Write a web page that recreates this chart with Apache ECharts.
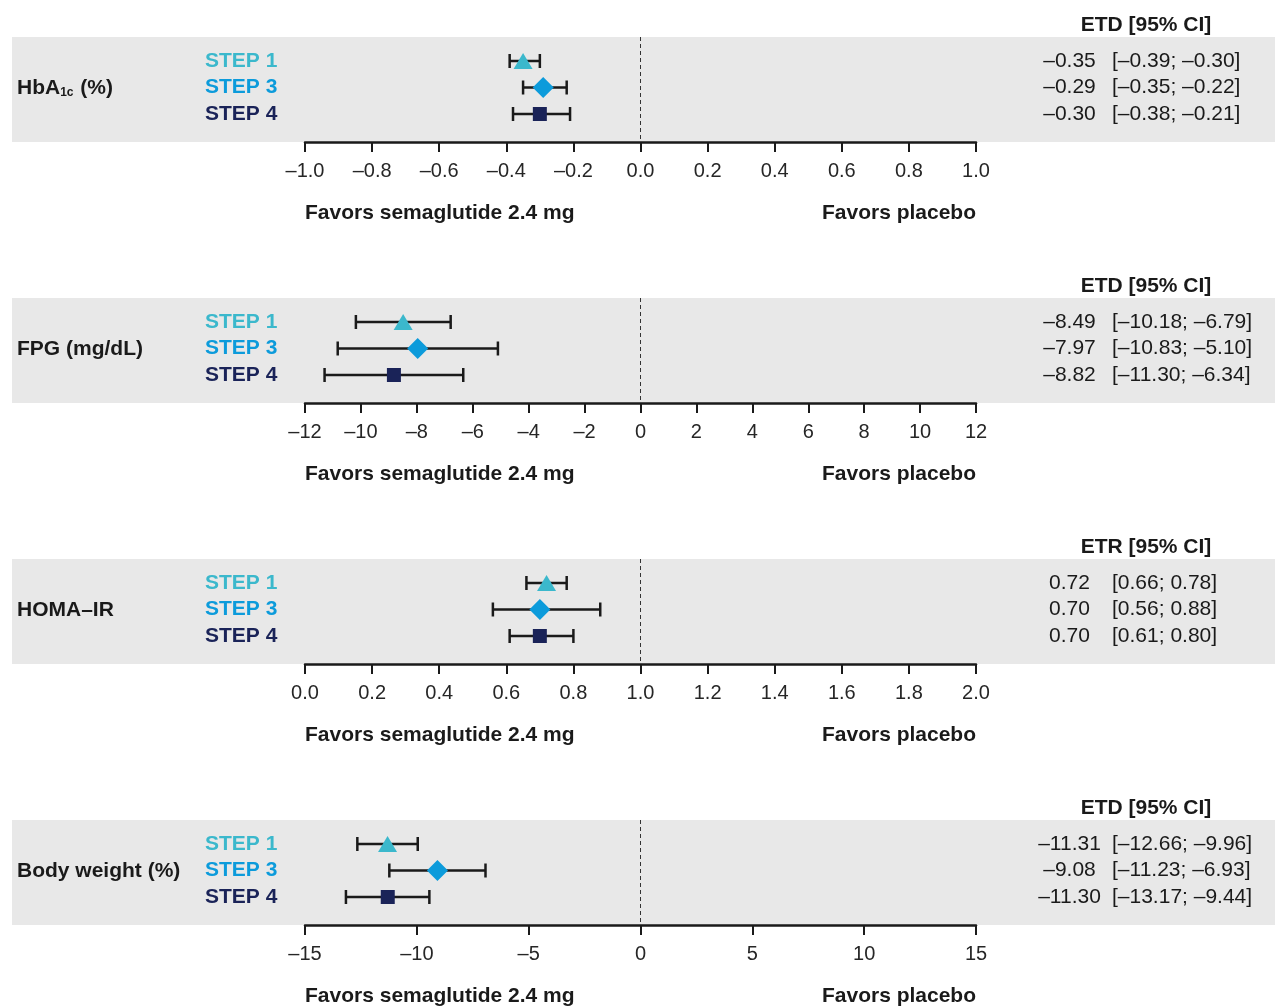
<!DOCTYPE html>
<html>
<head>
<meta charset="utf-8">
<script src="https://cdn.jsdelivr.net/npm/echarts@6/dist/echarts.min.js"></script>
<style>
  html, body { margin: 0; padding: 0; background: #fff; }
  #chart { width: 1275px; height: 1007px; }
</style>
</head>
<body>
<div id="chart"></div>
<script>
// data
var studies = ['STEP 1', 'STEP 3', 'STEP 4'];

var hbaEst = [-0.35, -0.29, -0.30];
var hbaLo  = [-0.39, -0.35, -0.38];
var hbaHi  = [-0.30, -0.22, -0.21];

var fpgEst = [-8.49, -7.97, -8.82];
var fpgLo  = [-10.18, -10.83, -11.30];
var fpgHi  = [-6.79, -5.10, -6.34];

var homaEst = [0.72, 0.70, 0.70];
var homaLo  = [0.66, 0.56, 0.61];
var homaHi  = [0.78, 0.88, 0.80];

var bwEst = [-11.31, -9.08, -11.30];
var bwLo  = [-12.66, -11.23, -13.17];
var bwHi  = [-9.96, -6.93, -9.44];

var panels = [
  { title: '{b|HbA}{s|1c}{b| (%)}', head: 'ETD [95% CI]', est: hbaEst, lo: hbaLo, hi: hbaHi, min: -1, max: 1, step: 0.2, ref: 0, dec: 1 },
  { title: '{b|FPG (mg/dL)}', head: 'ETD [95% CI]', est: fpgEst, lo: fpgLo, hi: fpgHi, min: -12, max: 12, step: 2, ref: 0, dec: 0 },
  { title: '{b|HOMA–IR}', head: 'ETR [95% CI]', est: homaEst, lo: homaLo, hi: homaHi, min: 0, max: 2, step: 0.2, ref: 1, dec: 1 },
  { title: '{b|Body weight (%)}', head: 'ETD [95% CI]', est: bwEst, lo: bwLo, hi: bwHi, min: -15, max: 15, step: 5, ref: 0, dec: 0 }
];

var colors = ['#3bb8cc', '#0c9bdb', '#1a2358'];
var symbols = ['triangle', 'diamond', 'rect'];
var symbolSizes = [[19, 16], [21, 21], [14, 14]];

var FONT = '"Liberation Sans", Arial, sans-serif';
var INK = '#1a1a1a';

function dash(s) { return s.replace(/-/g, '–'); }
function fmt(v, d) { return dash(v.toFixed(d)); }

var chart = echarts.init(document.getElementById('chart'));

var grids = [], xAxes = [], yAxes = [], series = [], graphics = [];

panels.forEach(function (p, i) {
  var base = 37 + 261 * i;   // top of grey band
  graphics.push({
    type: 'rect', left: 12, top: base, z: -10,
    shape: { width: 1263, height: 105 },
    style: { fill: '#e8e8e8' }
  });
  graphics.push({
    type: 'text', x: 17, y: base + 51, z: 10,
    style: {
      text: p.title, verticalAlign: 'middle', fill: INK,
      rich: {
        b: { fontFamily: FONT, fontSize: 21, fontWeight: 'bold', fill: INK },
        s: { fontFamily: FONT, fontSize: 12, fontWeight: 'bold', fill: INK, padding: [10, 1, 0, 0] }
      }
    }
  });
  graphics.push({
    type: 'text', x: 1146, y: base - 12, z: 10,
    style: { text: p.head, align: 'center', verticalAlign: 'middle', fontFamily: FONT, fontSize: 21, fontWeight: 'bold', fill: INK }
  });
  graphics.push({
    type: 'text', x: 305, y: base + 176, z: 10,
    style: { text: 'Favors semaglutide 2.4 mg', align: 'left', verticalAlign: 'middle', fontFamily: FONT, fontSize: 21, fontWeight: 'bold', fill: INK }
  });
  graphics.push({
    type: 'text', x: 976, y: base + 176, z: 10,
    style: { text: 'Favors placebo', align: 'right', verticalAlign: 'middle', fontFamily: FONT, fontSize: 21, fontWeight: 'bold', fill: INK }
  });

  grids.push({ left: 305, right: 299, top: base + 24, height: 53 });

  xAxes.push({
    type: 'value', gridIndex: i, min: p.min, max: p.max, interval: p.step,
    position: 'bottom', offset: 28,
    axisLine: { show: true, onZero: false, lineStyle: { color: INK, width: 2.5 } },
    axisTick: { show: true, inside: false, length: 10, lineStyle: { color: INK, width: 2 } },
    splitLine: { show: false },
    axisLabel: {
      margin: 19, fontFamily: FONT, fontSize: 20, color: '#262626',
      formatter: function (v) { return fmt(v, p.dec); }
    }
  });

  var labelRich = {};
  colors.forEach(function (c, k) {
    labelRich['s' + k] = { fontFamily: FONT, fontSize: 21, fontWeight: 'bold', color: c };
  });
  yAxes.push({
    type: 'category', gridIndex: i, data: studies, inverse: true, boundaryGap: false,
    position: 'left',
    axisLine: { show: false }, axisTick: { show: false }, splitLine: { show: false },
    axisLabel: {
      align: 'left', margin: 100,
      formatter: function (v, k) { return '{s' + k + '|' + v + '}'; },
      rich: labelRich
    }
  });
  yAxes.push({
    type: 'category', gridIndex: i, data: studies, inverse: true, boundaryGap: false,
    position: 'right',
    axisLine: { show: false }, axisTick: { show: false }, splitLine: { show: false },
    axisLabel: {
      align: 'left', margin: 52,
      formatter: function (v, k) {
        return '{e|' + fmt(p.est[k], 2) + '}{c|[' + fmt(p.lo[k], 2) + '; ' + fmt(p.hi[k], 2) + ']}';
      },
      rich: {
        e: { fontFamily: FONT, fontSize: 21, color: INK, width: 83, align: 'right' },
        c: { fontFamily: FONT, fontSize: 21, color: INK, padding: [0, 0, 0, 1] }
      }
    }
  });

  // reference line
  series.push({
    type: 'custom', xAxisIndex: i, yAxisIndex: 2 * i, clip: false, silent: true,
    data: [[p.ref, 0]],
    renderItem: function (params, api) {
      var x = api.coord([api.value(0), 0])[0];
      var cs = params.coordSys;
      return {
        type: 'line',
        shape: { x1: x, y1: cs.y - 24, x2: x, y2: cs.y + cs.height + 28 },
        style: { stroke: '#333', lineWidth: 1, lineDash: [4, 3] }
      };
    }
  });

  // CI whiskers
  series.push({
    type: 'custom', xAxisIndex: i, yAxisIndex: 2 * i, clip: false, silent: true, z: 3,
    encode: { x: [0, 1], y: 2 },
    data: p.lo.map(function (lo, k) { return [lo, p.hi[k], k]; }),
    renderItem: function (params, api) {
      var a = api.coord([api.value(0), api.value(2)]);
      var b = api.coord([api.value(1), api.value(2)]);
      var st = { stroke: INK, lineWidth: 2.5 };
      return {
        type: 'group',
        children: [
          { type: 'line', shape: { x1: a[0], y1: a[1], x2: b[0], y2: b[1] }, style: st },
          { type: 'line', shape: { x1: a[0], y1: a[1] - 7, x2: a[0], y2: a[1] + 7 }, style: st },
          { type: 'line', shape: { x1: b[0], y1: b[1] - 7, x2: b[0], y2: b[1] + 7 }, style: st }
        ]
      };
    }
  });

  // point estimates
  series.push({
    type: 'scatter', xAxisIndex: i, yAxisIndex: 2 * i, z: 5, silent: true,
    data: p.est.map(function (v, k) {
      return {
        value: [v, k], symbol: symbols[k], symbolSize: symbolSizes[k],
        itemStyle: { color: colors[k], opacity: 1 }
      };
    })
  });
});

chart.setOption({
  animation: false,
  backgroundColor: '#fff',
  grid: grids,
  xAxis: xAxes,
  yAxis: yAxes,
  series: series,
  graphic: graphics
});
</script>
</body>
</html>
